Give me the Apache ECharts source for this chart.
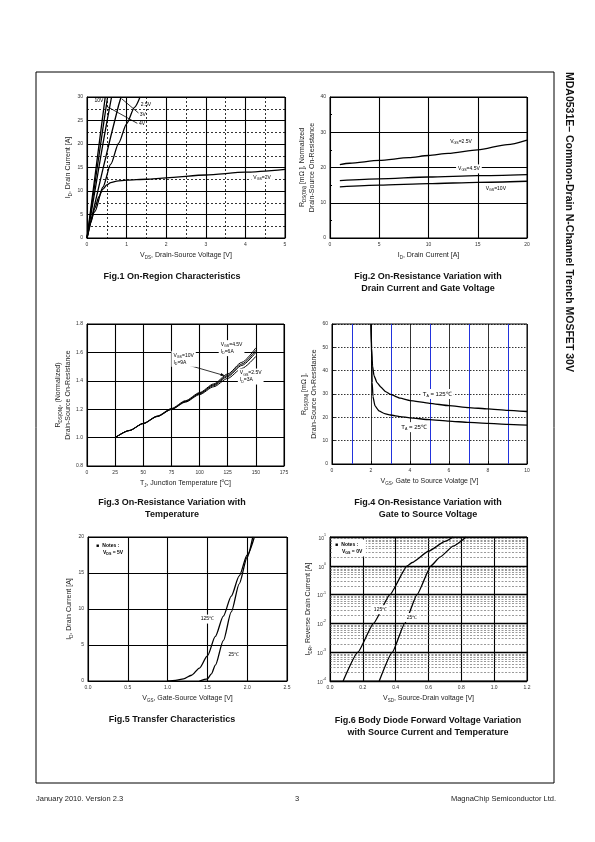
<!DOCTYPE html>
<html><head><meta charset="utf-8">
<script src="https://cdn.jsdelivr.net/npm/echarts@6/dist/echarts.min.js"></script>
<style>html,body{margin:0;padding:0;background:#fff}#c{width:595px;height:842px}</style>
</head><body><div id="c"></div>
<script>
// ---------- DATA ----------
// Fig.1  On-Region Characteristics  [Vds, Id]
const f1_vgs10  = [[0,0],[0.1,6.5],[0.2,13],[0.3,19.6],[0.4,26.1],[0.46,30]];
const f1_vgs45  = [[0,0],[0.1,5.8],[0.2,11.6],[0.3,17.4],[0.4,23.2],[0.52,30]];
const f1_vgs4   = [[0,0],[0.1,5],[0.2,10],[0.3,15],[0.4,19.9],[0.5,24.6],[0.62,30]];
const f1_vgs3   = [[0,0],[0.2,7.3],[0.4,14.6],[0.6,21.6],[0.8,28.3],[0.86,30]];
const f1_vgs25  = [[0,0],[0.2,5.6],[0.4,10.8],[0.6,15.7],[0.8,20.2],[1.0,24.3],[1.2,27.8],[1.34,30]];
const f1_vgs2   = [[0,0],[0.1,3.4],[0.2,6.4],[0.3,8.8],[0.4,10.4],[0.5,11.3],[0.6,11.8],[0.75,12.1],[1,12.3],[1.5,12.5],[2,12.8],[3,13.4],[4,14],[5,14.6]];
// Fig.2  On-Resistance vs Drain Current  [Id, Rds]
const f2_vgs25  = [[1,20.8],[2,21.2],[5,22],[8,22.8],[10,23.4],[12,24],[15,25],[18,26.5],[20,27.8]];
const f2_vgs45  = [[1,16.3],[5,16.8],[10,17.3],[15,17.7],[20,18]];
const f2_vgs10  = [[1,14.5],[5,15],[10,15.4],[15,15.8],[20,16.1]];
// Fig.3  On-Resistance vs Temperature  [Tj, Rnorm]
const f3_temp = [25,37.5,50,62.5,75,87.5,100,112.5,125,137.5,150];
const f3_a = [1.0,1.05,1.1,1.152,1.205,1.26,1.317,1.378,1.448,1.53,1.632];
const f3_b = [1.0,1.05,1.1,1.15,1.2,1.255,1.312,1.372,1.438,1.518,1.615];
const f3_c = [1.0,1.05,1.1,1.15,1.2,1.253,1.308,1.366,1.43,1.508,1.6];
const f3_d = [1.0,1.049,1.098,1.148,1.198,1.25,1.303,1.358,1.417,1.487,1.572];
// Fig.4  On-Resistance vs Vgs  [Vgs, Rds]
const f4_t125 = [[2.0,60],[2.03,50],[2.08,42],[2.15,38],[2.3,35],[2.5,33],[2.75,31],[3,29.8],[3.5,28.2],[4,27.2],[5,26],[6,25],[7,24.2],[8,23.6],[9,23],[10,22.5]];
const f4_t25  = [[2.0,60],[2.03,45],[2.06,35],[2.1,29],[2.2,25],[2.4,22.8],[2.7,21.6],[3,21],[3.5,20.3],[4,19.8],[5,19],[6,18.4],[7,17.8],[8,17.4],[9,17],[10,16.7]];
const f4_blue = [1,3,5,7,9];
// Fig.5  Transfer Characteristics  [Vgs, Id]
const f5_t125 = [[1.0,0],[1.1,0.1],[1.2,0.3],[1.3,0.8],[1.4,1.8],[1.5,3.5],[1.6,6.2],[1.7,9],[1.8,11.8],[1.9,14.6],[2.0,17.5],[2.09,20]];
const f5_t25  = [[1.4,0],[1.5,0.3],[1.55,1],[1.6,2.2],[1.7,5.6],[1.8,9.6],[1.9,13.5],[2.0,17.2],[2.07,20]];
// Fig.6  Body diode forward voltage  [Vsd, Idr]
const f6_t125 = [[0.08,1e-4],[0.17,1e-3],[0.265,1e-2],[0.365,0.1],[0.47,1],[0.5,1.3],[0.6,3.2],[0.7,7],[0.75,10]];
const f6_t25  = [[0.3,1e-4],[0.38,1e-3],[0.455,1e-2],[0.53,0.1],[0.615,1],[0.67,2],[0.75,4.8],[0.83,10]];
const f6_decades = [1e-4,1e-3,1e-2,1e-1,1];
const f6_minor = f6_decades.flatMap(d => [2,3,4,5,6,7,8,9].map(k => k*d));

// ---------- CHART ----------
const FF = '"Liberation Sans", Arial, Helvetica, sans-serif';
const nameRich = {
  a:{fontSize:7,fontFamily:FF,color:'#222',lineHeight:10},
  s:{fontSize:4.5,fontFamily:FF,color:'#222',lineHeight:6,verticalAlign:'bottom'}
};
const annRich = {
  n:{fontSize:5,fontFamily:FF,color:'#111',lineHeight:7},
  s:{fontSize:3.6,fontFamily:FF,color:'#111',lineHeight:5,verticalAlign:'bottom'}
};
const blackSplit = {show:true,lineStyle:{color:'#000',width:1.1}};
function ax(gi, min, max, interval, name, gap, extra){
  const o = {
    type:'value', gridIndex:gi, min, max, interval, name,
    nameLocation:'middle', nameGap:gap,
    nameTextStyle:{fontSize:7,fontFamily:FF,color:'#222',rich:nameRich},
    axisLine:{show:true,onZero:false,lineStyle:{color:'#000',width:1}},
    axisTick:{show:true,inside:true,length:3,lineStyle:{color:'#000',width:0.8}},
    axisLabel:{fontSize:5,color:'#333',fontFamily:FF,margin:4},
    splitLine:blackSplit
  };
  return Object.assign(o, extra||{});
}
function line(gi, data, extra){
  return Object.assign({type:'line',xAxisIndex:gi,yAxisIndex:gi,data,showSymbol:false,symbol:'none',
    smooth:0.25,smoothMonotone:'x',lineStyle:{color:'#000',width:1.3},silent:true,z:5}, extra||{});
}
// reference lines drawn through the axis scales (custom series), snapped to crisp pixels
const crisp = v => Math.round(v) + 0.5;
function refLines(gi, dir, values, x0, x1, style){
  return {type:'custom',xAxisIndex:gi,yAxisIndex:gi,silent:true,z:1,clip:true,
    data: values.map(v => dir==='h' ? [x0, v] : [v, x0]),
    renderItem:(params, api) => {
      const v = dir==='h' ? api.value(1) : api.value(0);
      const a = dir==='h' ? api.coord([x0, v]) : api.coord([v, x0]);
      const b = dir==='h' ? api.coord([x1, v]) : api.coord([v, x1]);
      const shape = dir==='h'
        ? {x1:a[0],y1:crisp(a[1]),x2:b[0],y2:crisp(b[1])}
        : {x1:crisp(a[0]),y1:a[1],x2:crisp(b[0]),y2:b[1]};
      return {type:'line',shape,style:Object.assign({fill:null},style)};
    }};
}

const grids = [
  {left:87, top:97, width:198, height:141},
  {left:330,top:97, width:197, height:141},
  {left:87, top:324,width:197, height:142},
  {left:332,top:324,width:195, height:140},
  {left:88, top:537,width:199, height:144},
  {left:330,top:537,width:197, height:144}
].map(g => Object.assign({show:true,borderColor:'#000',borderWidth:1,backgroundColor:'#fff'}, g));

const dashMinor = {show:true,lineStyle:{color:'#000',width:0.8,type:[2,2]}};
const fix1 = v => v.toFixed(1);

const xAxis = [
  ax(0,0,5,1,'{a|V}{s|DS}{a|, Drain-Source Voltage [V]}',12,{minorTick:{show:false,splitNumber:2},minorSplitLine:dashMinor}),
  ax(1,0,20,5,'{a|I}{s|D}{a|, Drain Current [A]}',12),
  ax(2,0,175,25,'{a|T}{s|J}{a|, Junction Temperature [}{s2|o}{a|C]}',12,{nameTextStyle:{fontSize:7,fontFamily:FF,color:'#222',rich:Object.assign({s2:{fontSize:4.5,fontFamily:FF,color:'#222',lineHeight:10,verticalAlign:'top'}},nameRich)}}),
  ax(3,0,10,2,'{a|V}{s|GS}{a|, Gate to Source Volatge [V]}',12,{splitLine:{show:true,lineStyle:{color:'#000',width:0.8}}}),
  ax(4,0,2.5,0.5,'{a|V}{s|GS}{a|, Gate-Source Voltage [V]}',12,{axisLabel:{fontSize:5,color:'#333',fontFamily:FF,margin:4,formatter:fix1}}),
  ax(5,0,1.2,0.2,'{a|V}{s|SD}{a|, Source-Drain voltage [V]}',12,{axisLabel:{fontSize:5,color:'#333',fontFamily:FF,margin:4,formatter:fix1}})
];
const yAxis = [
  ax(0,0,30,5,'{a|I}{s|D}{a|, Drain Current [A]}',12,{minorTick:{show:false,splitNumber:2},minorSplitLine:dashMinor}),
  ax(1,0,40,10,'{a|R}{s|DS(ON)}{a| [mΩ ], Normalized}\n{a|Drain-Source On-Resistance}',13,{minorTick:{show:true,splitNumber:2,length:2,lineStyle:{color:'#000'}}}),
  ax(2,0.8,1.8,0.2,'{a|R}{s|DS(ON)}{a|, (Normalized)}\n{a|Drain-Source On-Resistance}',14,{axisLabel:{fontSize:5,color:'#333',fontFamily:FF,margin:4,formatter:fix1}}),
  ax(3,0,60,10,'{a|R}{s|DS(ON)}{a| [mΩ ],}\n{a|Drain-Source On-Resistance}',13,{splitLine:{show:true,lineStyle:{color:'#000',width:0.8,type:[1.5,1.5]}}}),
  ax(4,0,20,5,'{a|I}{s|D}{a|, Drain Current [A]}',12),
  Object.assign(ax(5,null,null,null,'{a|I}{s|DR}{a|, Reverse Drain Current [A]}',16,{
    axisLabel:{fontSize:5,color:'#333',fontFamily:FF,margin:4,
      formatter:v=>'{b|10}{p|'+Math.round(Math.log10(v))+'}',
      rich:{b:{fontSize:5,fontFamily:FF,color:'#333',lineHeight:8,verticalAlign:'bottom'},p:{fontSize:3.6,fontFamily:FF,color:'#333',lineHeight:8,verticalAlign:'top'}}},
    splitLine:{show:true,lineStyle:{color:'#000',width:1.4}}
  }),{type:'log',logBase:10,min:1e-4,max:10,interval:undefined})
];

const lw3 = {lineStyle:{color:'#000',width:1.0}};
const series = [
  line(0,f1_vgs10,{smooth:false}), line(0,f1_vgs45,{smooth:false}), line(0,f1_vgs4,{smooth:false}),
  line(0,f1_vgs3,{smooth:false}), line(0,f1_vgs25), line(0,f1_vgs2),
  line(1,f2_vgs25), line(1,f2_vgs45), line(1,f2_vgs10),
  line(2,f3_temp.map((t,i)=>[t,f3_a[i]]),lw3), line(2,f3_temp.map((t,i)=>[t,f3_b[i]]),lw3),
  line(2,f3_temp.map((t,i)=>[t,f3_c[i]]),lw3), line(2,f3_temp.map((t,i)=>[t,f3_d[i]]),lw3),
  refLines(3,'v',f4_blue,0,60,{stroke:'#2233dd',lineWidth:1}),
  line(3,f4_t125,{smooth:0.15}), line(3,f4_t25,{smooth:0.15}),
  line(4,f5_t125), line(4,f5_t25),
  refLines(5,'h',f6_minor,0,1.2,{stroke:'#555',lineWidth:0.6,lineDash:[2,1.5]}),
  line(5,f6_t125,{smooth:0.15}),
  line(5,f6_t25,{smooth:0.15})
];

function T(x,y,text,o){
  o=o||{};
  return {type:'text',x,y,z:100,silent:true,style:Object.assign({text,fontFamily:FF,fontSize:o.fs||9,fontWeight:o.fw||'normal',
    fill:o.fill||'#111',align:o.align||'center',verticalAlign:'middle'},o.style||{}),rotation:o.rot||0};
}
const statics = [
  {type:'rect',shape:{x:36,y:72,width:518,height:711},style:{fill:null,stroke:'#000',lineWidth:1},silent:true,z:1},
  T(569,72,'MDA0531E– Common-Drain N-Channel Trench MOSFET 30V',{fs:10.5,fw:'bold',align:'left',rot:-Math.PI/2,fill:'#111'}),
  T(172,277,'Fig.1 On-Region Characteristics',{fw:'bold'}),
  T(428,277,'Fig.2 On-Resistance Variation with',{fw:'bold'}),
  T(428,289,'Drain Current and Gate Voltage',{fw:'bold'}),
  T(172,503,'Fig.3 On-Resistance Variation with',{fw:'bold'}),
  T(172,515,'Temperature',{fw:'bold'}),
  T(428,503,'Fig.4 On-Resistance Variation with',{fw:'bold'}),
  T(428,515,'Gate to Source Voltage',{fw:'bold'}),
  T(172,720,'Fig.5 Transfer Characteristics',{fw:'bold'}),
  T(428,721,'Fig.6 Body Diode Forward Voltage Variation',{fw:'bold'}),
  T(428,733,'with Source Current and Temperature',{fw:'bold'}),
  T(36,799,'January 2010. Version 2.3',{fs:7.5,align:'left',fill:'#222'}),
  T(297,799,'3',{fs:7.5,fill:'#222'}),
  T(556,799,'MagnaChip Semiconductor Ltd.',{fs:7.5,align:'right',fill:'#222'})
];

const chart = echarts.init(document.getElementById('c'),null,{renderer:'canvas'});
chart.setOption({animation:false,grid:grids,xAxis,yAxis,series,graphic:statics});

// annotations placed through the chart's own scales
const P = (g,pt) => chart.convertToPixel({gridIndex:g},pt);
const anns = [
  [0,[0.3,29.2],'{n|10V}','center'],
  [0,[1.36,28.4],'{n|2.5V}','left'],
  [0,[1.33,26.3],'{n|3V}','left'],
  [0,[1.31,24.3],'{n|4V}','left'],
  [0,[4.15,12.9],'{n|V}{s|GS}{n|=2V}','left',true],
  [1,[12.2,27.3],'{n|V}{s|GS}{n|=2.5V}','left'],
  [1,[12.8,19.6],'{n|V}{s|GS}{n|=4.5V}','left',true],
  [1,[15.8,14.1],'{n|V}{s|GS}{n|=10V}','left'],
  [2,[117,1.63],'{n|V}{s|GS}{n|=4.5V}\n{n|I}{s|D}{n|=6A}','left',true],
  [2,[75,1.555],'{n|V}{s|GS}{n|=10V}\n{n|I}{s|D}{n|=9A}','left',true],
  [2,[134,1.43],'{n|V}{s|GS}{n|=2.5V}\n{n|I}{s|D}{n|=3A}','left',true],
  [3,[4.55,30],'{m|T}{s|A}{m| = 125℃}','left',true],
  [3,[3.45,15.8],'{m|T}{s|A}{m| = 25℃}','left',true],
  [4,[1.39,8.6],'{n|125℃}','left',true],
  [4,[1.74,3.6],'{n|25℃}','left',true],
  [5,[0.255,0.03],'{n|125℃}','left',true],
  [5,[0.455,0.016],'{n|25℃}','left',true]
];
const dyn = [];
anns.forEach(([g,pt,text,align,bg]) => {
  const p = P(g,pt);
  dyn.push({type:'text',x:p[0],y:p[1],z:110,silent:true,style:{text,align,verticalAlign:'middle',
    rich:Object.assign({m:{fontSize:6,fontFamily:FF,color:'#111',lineHeight:8}},annRich),
    backgroundColor:bg?'#fff':null,padding:bg?[1,2]:0}});
});
function L(g,a,b,arrow){
  const p=P(g,a), q=P(g,b);
  dyn.push({type:'line',z:105,silent:true,shape:{x1:p[0],y1:p[1],x2:q[0],y2:q[1]},style:{stroke:'#000',lineWidth:0.8}});
  if(arrow){
    const ang=Math.atan2(q[1]-p[1],q[0]-p[0]), s=4;
    const pts=[[q[0],q[1]],[q[0]-s*Math.cos(ang-0.4),q[1]-s*Math.sin(ang-0.4)],[q[0]-s*Math.cos(ang+0.4),q[1]-s*Math.sin(ang+0.4)]];
    dyn.push({type:'polygon',z:106,silent:true,shape:{points:pts},style:{fill:'#000'}});
  }
}
L(0,[0.5,28.0],[1.27,24.4]);
L(0,[0.88,29.6],[1.3,26.6]);
L(2,[88,1.515],[122,1.437],true);
// notes boxes
function notes(g,pt,cond){
  const p=P(g,pt);
  dyn.push({type:'rect',z:107,silent:true,shape:{x:p[0]-3,y:p[1]-5,width:34,height:17},style:{fill:'#fff'}});
  dyn.push({type:'text',x:p[0],y:p[1],z:110,silent:true,style:{text:'{q|■} {b|Notes :}',align:'left',verticalAlign:'middle',
    rich:{q:{fontSize:5,fontFamily:FF,color:'#000'},b:{fontSize:5,fontFamily:FF,fontWeight:'bold',color:'#000'}}}});
  dyn.push({type:'text',x:p[0]+7,y:p[1]+7,z:110,silent:true,style:{text:cond,align:'left',verticalAlign:'middle',
    rich:{b:{fontSize:5,fontFamily:FF,fontWeight:'bold',color:'#000',lineHeight:7},s:{fontSize:3.6,fontFamily:FF,fontWeight:'bold',color:'#000',lineHeight:5,verticalAlign:'bottom'}}}});
}
notes(4,[0.1,18.8],'{b|V}{s|DS}{b| = 5V}');
notes(5,[0.03,5.5],'{b|V}{s|GS}{b| = 0V}');
chart.setOption({graphic:statics.concat(dyn)});
</script>
</body></html>
